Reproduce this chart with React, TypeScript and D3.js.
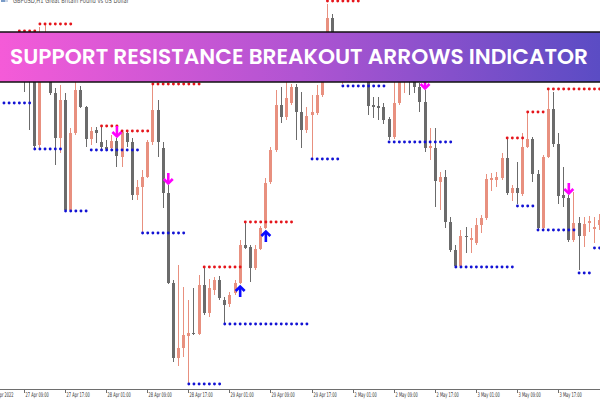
import React from 'react';
import * as d3 from 'd3';

// GBPUSD H1 candles, bar index 0..116
const opens = [1.2530,1.2550,1.2535,1.2545,1.2560,1.2528,1.2522,1.2455,1.2550,1.2562,
1.2507,1.2462,1.2500,1.2390,1.2467,1.2510,1.2493,1.2461,1.2470,1.2458,
1.2453,1.2452,1.2459,1.2443,1.2467,1.2458,1.2405,1.2413,1.2423,1.2458,
1.2490,1.2452,1.2407,1.2317,1.2242,1.2252,1.2264,1.2267,1.2266,1.2315,
1.2287,1.2310,1.2320,1.2300,1.2296,1.2307,1.2317,1.2355,1.2353,1.2332,
1.2351,1.2372,1.2418,1.2450,1.2495,1.2483,1.2497,1.2513,1.2488,1.2470,
1.2485,1.2487,1.2505,1.2525,1.2582,1.2555,1.2545,1.2552,1.2540,1.2550,
1.2538,1.2530,1.2495,1.2494,1.2493,1.2481,1.2463,1.2497,1.2520,1.2538,
1.2534,1.2513,1.2498,1.2452,1.2452,1.2418,1.2423,1.2378,1.2350,1.2334,
1.2364,1.2360,1.2357,1.2375,1.2382,1.2420,1.2420,1.2422,1.2442,1.2407,
1.2412,1.2406,1.2453,1.2461,1.2426,1.2372,1.2443,1.2491,1.2456,1.2405,
1.2402,1.2360,1.2377,1.2364,1.2377,1.2371,1.2375];
const highs = [1.2560,1.2562,1.2555,1.2569,1.2565,1.2555,1.2540,1.2573,1.2576,1.2566,
1.2512,1.2515,1.2507,1.2472,1.2522,1.2514,1.2494,1.2473,1.2473,1.2474,
1.2460,1.2465,1.2462,1.2470,1.2470,1.2462,1.2420,1.2430,1.2460,1.2515,
1.2500,1.2458,1.2415,1.2320,1.2335,1.2313,1.2300,1.2312,1.2325,1.2333,
1.2321,1.2323,1.2324,1.2303,1.2308,1.2320,1.2360,1.2378,1.2355,1.2355,
1.2374,1.2422,1.2453,1.2510,1.2513,1.2520,1.2516,1.2516,1.2508,1.2493,
1.2505,1.2515,1.2530,1.2596,1.2586,1.2565,1.2560,1.2562,1.2555,1.2560,
1.2550,1.2540,1.2503,1.2503,1.2497,1.2483,1.2520,1.2540,1.2545,1.2550,
1.2545,1.2517,1.2510,1.2472,1.2472,1.2428,1.2430,1.2383,1.2355,1.2370,
1.2373,1.2372,1.2382,1.2385,1.2426,1.2427,1.2428,1.2447,1.2462,1.2415,
1.2438,1.2467,1.2488,1.2463,1.2430,1.2445,1.2511,1.2508,1.2467,1.2433,
1.2405,1.2408,1.2383,1.2383,1.2384,1.2383,1.2386];
const lows = [1.2520,1.2525,1.2520,1.2530,1.2508,1.2470,1.2452,1.2452,1.2535,1.2505,
1.2435,1.2447,1.2389,1.2389,1.2465,1.2492,1.2453,1.2455,1.2457,1.2450,
1.2449,1.2450,1.2433,1.2433,1.2453,1.2400,1.2400,1.2368,1.2422,1.2455,
1.2443,1.2392,1.2316,1.2238,1.2234,1.2243,1.2216,1.2265,1.2265,1.2285,
1.2283,1.2305,1.2300,1.2276,1.2293,1.2305,1.2316,1.2351,1.2318,1.2330,
1.2350,1.2371,1.2416,1.2448,1.2477,1.2480,1.2495,1.2460,1.2452,1.2467,
1.2441,1.2485,1.2503,1.2522,1.2550,1.2530,1.2516,1.2535,1.2525,1.2530,
1.2520,1.2485,1.2482,1.2480,1.2476,1.2460,1.2461,1.2495,1.2507,1.2505,
1.2507,1.2488,1.2448,1.2440,1.2393,1.2390,1.2372,1.2348,1.2333,1.2333,
1.2347,1.2347,1.2355,1.2367,1.2380,1.2409,1.2413,1.2420,1.2405,1.2399,
1.2396,1.2404,1.2452,1.2418,1.2370,1.2370,1.2442,1.2453,1.2396,1.2393,
1.2358,1.2358,1.2330,1.2353,1.2368,1.2357,1.2370];
const closes = [1.2550,1.2535,1.2545,1.2560,1.2525,1.2522,1.2454,1.2550,1.2562,1.2507,
1.2462,1.2500,1.2390,1.2467,1.2510,1.2493,1.2461,1.2469,1.2467,1.2453,
1.2451,1.2459,1.2444,1.2468,1.2458,1.2405,1.2413,1.2423,1.2458,1.2490,
1.2458,1.2407,1.2317,1.2242,1.2252,1.2265,1.2267,1.2266,1.2315,1.2287,
1.2312,1.2320,1.2302,1.2295,1.2305,1.2317,1.2355,1.2352,1.2332,1.2351,
1.2372,1.2417,1.2450,1.2495,1.2483,1.2502,1.2513,1.2488,1.2470,1.2484,
1.2488,1.2505,1.2525,1.2582,1.2555,1.2545,1.2552,1.2540,1.2550,1.2538,
1.2530,1.2494,1.2493,1.2492,1.2480,1.2463,1.2497,1.2530,1.2538,1.2534,
1.2513,1.2498,1.2452,1.2454,1.2419,1.2423,1.2378,1.2350,1.2334,1.2364,
1.2363,1.2362,1.2375,1.2382,1.2421,1.2422,1.2423,1.2442,1.2407,1.2412,
1.2407,1.2453,1.2461,1.2426,1.2372,1.2443,1.2491,1.2456,1.2404,1.2402,
1.2360,1.2377,1.2364,1.2376,1.2379,1.2373,1.2380];

// Resistance (red dots) levels and the bars they span
const resistanceLevels = [1.2569, 1.2576, 1.2474, 1.2469, 1.2516, 1.2333, 1.2378, 1.2599, 1.2462, 1.2488, 1.2511];
const resistanceFrom = [3, 7, 19, 23, 29, 39, 47, 63, 98, 102, 106];
const resistanceTo = [6, 13, 22, 28, 38, 46, 56, 69, 101, 105, 116];

// Support (blue dots) levels and the bars they span
const supportLevels = [1.2497, 1.2451, 1.2389, 1.2450, 1.2367, 1.2216, 1.2276, 1.2441, 1.2514, 1.2458, 1.2333, 1.2394, 1.2370, 1.2327, 1.2352];
const supportFrom = [0, 6, 12, 17, 27, 36, 43, 60, 66, 75, 88, 100, 104, 112, 115];
const supportTo = [5, 11, 16, 26, 35, 42, 59, 65, 74, 87, 99, 103, 111, 114, 116];

// Breakout arrows (bar indices)
const sellArrows = [22, 32, 82, 110];
const buyArrows = [46, 51];

// Time axis
const tickLabels = ['26 Apr 2022', '27 Apr 09:00', '27 Apr 17:00', '28 Apr 01:00', '28 Apr 09:00', '28 Apr 17:00', '29 Apr 01:00', '29 Apr 09:00', '29 Apr 17:00', '2 May 01:00', '2 May 09:00', '2 May 17:00', '3 May 01:00', '3 May 09:00', '3 May 17:00'];
const tickBars = [-2.6, 4, 12, 20, 28, 36, 44, 52, 60, 68, 76, 84, 92, 100, 108];

const title = 'SUPPORT RESISTANCE BREAKOUT ARROWS INDICATOR';
const header = 'GBPUSD,H1  Great Britain Pound vs US Dollar';

const W = 600;
const H = 400;
const AXIS_Y = 389;

const BULL = '#e8907f';
const BEAR = '#6b6b6b';
const RED = '#e5141a';
const BLUE = '#1212d4';

export default function App() {
  React.useEffect(() => {
    document.body.style.margin = '0';
  }, []);

  const x = d3.scaleLinear().domain([0, 116]).range([3.46, 3.46 + 116 * 5.135]);
  const y = d3.scaleLinear().domain([1.2211, 1.26]).range([AXIS_Y, 0]);

  const candles = opens.map((o, i) => {
    const c = closes[i];
    const up = c >= o;
    const col = up ? BULL : BEAR;
    const cx = Math.round(x(i));
    const yTop = Math.round(y(Math.max(o, c)));
    const yBot = Math.round(y(Math.min(o, c)));
    return (
      <g key={'c' + i}>
        <line x1={cx + 0.5} x2={cx + 0.5} y1={y(highs[i])} y2={y(lows[i])} stroke={col} strokeWidth={1} />
        <rect x={cx - 1} y={yTop} width={3} height={Math.max(1, yBot - yTop)} fill={col} />
      </g>
    );
  });

  const dots: JSX.Element[] = [];
  resistanceLevels.forEach((lv, k) => {
    for (let i = resistanceFrom[k]; i <= resistanceTo[k]; i++) {
      dots.push(<circle key={`r${k}-${i}`} cx={x(i) + 0.5} cy={y(lv)} r={1.45} fill={RED} />);
    }
  });
  supportLevels.forEach((lv, k) => {
    for (let i = supportFrom[k]; i <= supportTo[k]; i++) {
      dots.push(<circle key={`s${k}-${i}`} cx={x(i) + 0.5} cy={y(lv)} r={1.45} fill={BLUE} />);
    }
  });

  const arrows: JSX.Element[] = [];
  sellArrows.forEach((i) => {
    const cx = x(i) + 0.5;
    const tip = y(highs[i]) - 1;
    arrows.push(
      <g key={'sa' + i} stroke="#ff00ff" strokeWidth={2.6} fill="none" strokeLinecap="butt">
        <line x1={cx} x2={cx} y1={tip - 11} y2={tip - 1} />
        <polyline points={`${cx - 4.5},${tip - 5} ${cx},${tip - 0.5} ${cx + 4.5},${tip - 5}`} />
      </g>
    );
  });
  buyArrows.forEach((i) => {
    const cx = x(i) + 0.5;
    const tip = y(lows[i]) + 2;
    arrows.push(
      <g key={'ba' + i} stroke="#0a0aff" strokeWidth={2.6} fill="none" strokeLinecap="butt">
        <line x1={cx} x2={cx} y1={tip + 11} y2={tip + 1} />
        <polyline points={`${cx - 4.5},${tip + 5} ${cx},${tip + 0.5} ${cx + 4.5},${tip + 5}`} />
      </g>
    );
  });

  return (
    <svg width={W} height={H} style={{ position: 'absolute', left: 0, top: 0, background: '#fff' }}>
      <defs>
        <linearGradient id="bannerGrad" x1="0" x2="1" y1="0" y2="0">
          <stop offset="0%" stopColor="#f55bd8" />
          <stop offset="50%" stopColor="#b054d2" />
          <stop offset="100%" stopColor="#5a4cc4" />
        </linearGradient>
      </defs>
      <rect x={0} y={0} width={W} height={H} fill="#ffffff" />

      {/* header */}
      <rect x={1} y={-3} width={4} height={5} fill="#7a9cc8" />
      <rect x={5} y={-3} width={3} height={5} fill="#c8d4e6" />
      <text transform="translate(13,2.5) scale(0.74,1)" fontFamily="'DejaVu Sans', sans-serif" fontSize={7} fill="#555">{header}</text>

      {candles}
      {dots}
      {arrows}

      {/* time axis */}
      <line x1={0} x2={W} y1={AXIS_Y + 0.5} y2={AXIS_Y + 0.5} stroke="#6e6e6e" strokeWidth={1} />
      {tickLabels.map((t, k) => {
        const tx = Math.round(x(tickBars[k]));
        return (
          <g key={'t' + k}>
            <line x1={tx + 0.5} x2={tx + 0.5} y1={AXIS_Y} y2={AXIS_Y + 4} stroke="#6e6e6e" strokeWidth={1} />
            <text transform={`translate(${tx + 1.5},397.2) scale(0.56,1)`} fontFamily="'DejaVu Sans', sans-serif" fontSize={6.4} fill="#333">{t}</text>
          </g>
        );
      })}

      {/* banner */}
      <rect x={-2} y={32} width={W + 4} height={50} fill="url(#bannerGrad)" stroke="#111" strokeWidth={1.5} />
      <text x={10} y={63.5} fontFamily="Poppins, Inter, 'Open Sans', sans-serif" fontWeight={600} fontSize={21.5} fill="#ffffff" textLength={578} lengthAdjust="spacingAndGlyphs">{title}</text>
    </svg>
  );
}
